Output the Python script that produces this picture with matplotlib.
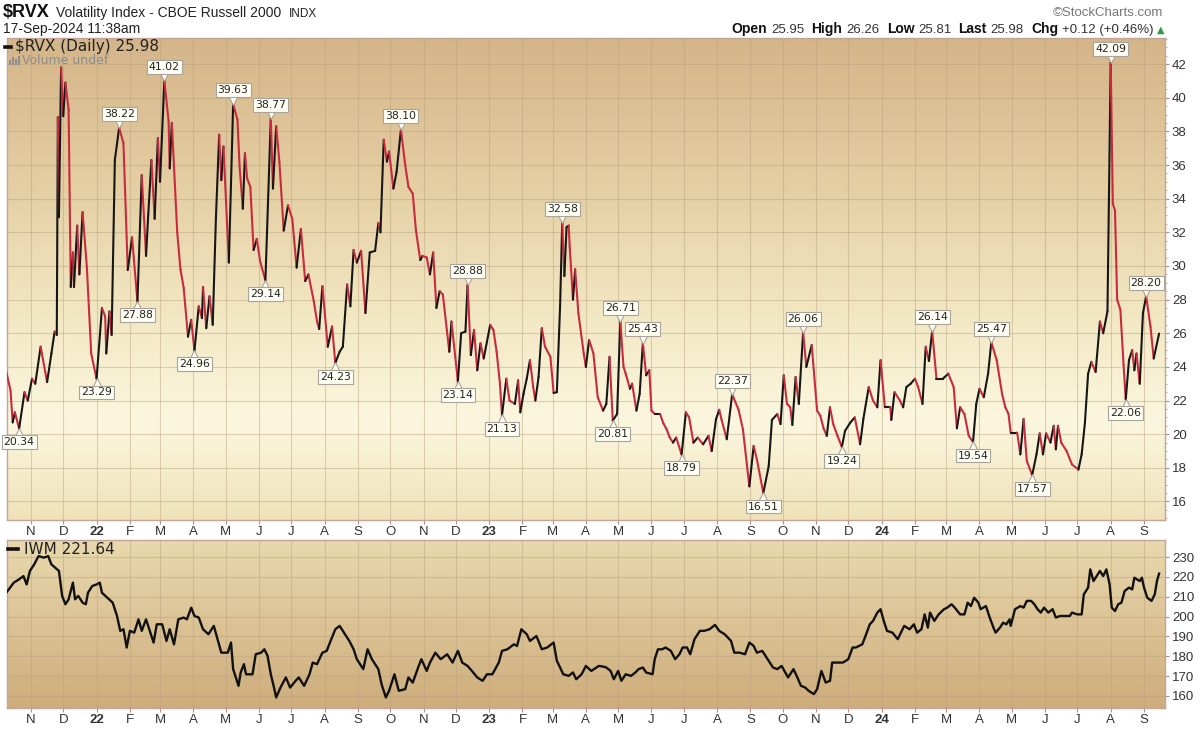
import datetime as dt
import numpy as np
import matplotlib
matplotlib.use("Agg")
import matplotlib.pyplot as plt
import matplotlib.dates as mdates
import matplotlib.ticker as mticker
import matplotlib.transforms as mtransforms
from matplotlib.collections import LineCollection
from matplotlib.lines import Line2D
from matplotlib.patches import Rectangle

plt.rcParams['text.parse_math'] = False
plt.rcParams['font.family'] = ['Liberation Sans', 'DejaVu Sans']

# ---------------- data ----------------
rvx_dates = [
 "2021-10-08","2021-10-13","2021-10-15","2021-10-17","2021-10-21","2021-10-26","2021-10-29",
 "2021-11-02","2021-11-05","2021-11-10","2021-11-16","2021-11-20","2021-11-23","2021-11-25",
 "2021-11-26","2021-11-27","2021-11-29","2021-12-01","2021-12-03","2021-12-06","2021-12-08",
 "2021-12-10","2021-12-11","2021-12-14","2021-12-16","2021-12-19","2021-12-23","2021-12-27",
 "2022-01-01","2022-01-06","2022-01-09","2022-01-10","2022-01-13","2022-01-15","2022-01-18",
 "2022-01-22","2022-01-26","2022-01-30","2022-02-03","2022-02-08","2022-02-12","2022-02-16",
 "2022-02-18","2022-02-21","2022-02-24","2022-02-27","2022-03-01","2022-03-05","2022-03-09",
 "2022-03-10","2022-03-12","2022-03-17","2022-03-20","2022-03-23","2022-03-27","2022-03-30",
 "2022-04-02","2022-04-06","2022-04-09","2022-04-10","2022-04-13","2022-04-16","2022-04-19",
 "2022-04-22","2022-04-25","2022-04-27","2022-04-29","2022-05-04","2022-05-08","2022-05-12",
 "2022-05-14","2022-05-17","2022-05-19","2022-05-21","2022-05-24","2022-05-27","2022-05-30",
 "2022-06-02","2022-06-07","2022-06-12","2022-06-14","2022-06-17","2022-06-20","2022-06-24",
 "2022-06-28","2022-07-02","2022-07-06","2022-07-10","2022-07-14","2022-07-17","2022-07-22",
 "2022-07-25","2022-07-27","2022-07-30","2022-08-04","2022-08-08","2022-08-11","2022-08-15",
 "2022-08-18","2022-08-22","2022-08-25","2022-08-28","2022-08-31","2022-09-04","2022-09-08",
 "2022-09-12","2022-09-17","2022-09-20","2022-09-22","2022-09-25","2022-09-28","2022-09-30",
 "2022-10-04","2022-10-07","2022-10-11","2022-10-15","2022-10-18","2022-10-22","2022-10-25",
 "2022-10-29","2022-10-31","2022-11-04","2022-11-07","2022-11-10","2022-11-13","2022-11-16",
 "2022-11-19","2022-11-25","2022-11-27","2022-12-03","2022-12-06","2022-12-10","2022-12-12",
 "2022-12-15","2022-12-18","2022-12-21","2022-12-24","2022-12-27","2022-12-30","2023-01-02",
 "2023-01-05","2023-01-08","2023-01-11","2023-01-13","2023-01-17","2023-01-20","2023-01-25",
 "2023-01-28","2023-01-30","2023-02-02","2023-02-05","2023-02-08","2023-02-11","2023-02-13",
 "2023-02-16","2023-02-19","2023-02-22","2023-02-27","2023-03-02","2023-03-05","2023-03-08",
 "2023-03-10","2023-03-12","2023-03-14","2023-03-16","2023-03-17","2023-03-20","2023-03-22",
 "2023-03-25","2023-03-30","2023-04-01","2023-04-04","2023-04-08","2023-04-12","2023-04-17",
 "2023-04-20","2023-04-23","2023-04-26","2023-04-30","2023-05-03","2023-05-06","2023-05-08",
 "2023-05-12","2023-05-14","2023-05-18","2023-05-21","2023-05-24","2023-05-27","2023-05-30",
 "2023-06-01","2023-06-04","2023-06-09","2023-06-12","2023-06-15","2023-06-18","2023-06-21",
 "2023-06-24","2023-06-29","2023-07-03","2023-07-06","2023-07-10","2023-07-14","2023-07-19",
 "2023-07-24","2023-07-27","2023-07-31","2023-08-03","2023-08-05","2023-08-10","2023-08-15",
 "2023-08-21","2023-08-25","2023-08-31","2023-09-04","2023-09-07","2023-09-13","2023-09-18",
 "2023-09-21","2023-09-26","2023-09-29","2023-10-02","2023-10-05","2023-10-08","2023-10-10",
 "2023-10-13","2023-10-16","2023-10-20","2023-10-23","2023-10-28","2023-11-02","2023-11-05",
 "2023-11-08","2023-11-11","2023-11-14","2023-11-17","2023-11-21","2023-11-25","2023-11-28",
 "2023-12-03","2023-12-07","2023-12-12","2023-12-15","2023-12-20","2023-12-24","2023-12-28",
 "2023-12-31","2024-01-04","2024-01-09","2024-01-10","2024-01-13","2024-01-18","2024-01-21",
 "2024-01-24","2024-01-28","2024-02-01","2024-02-04","2024-02-08","2024-02-11","2024-02-14",
 "2024-02-17","2024-02-21","2024-02-27","2024-03-03","2024-03-08","2024-03-11","2024-03-14",
 "2024-03-18","2024-03-22","2024-03-26","2024-03-29","2024-04-01","2024-04-05","2024-04-09",
 "2024-04-12","2024-04-17","2024-04-22","2024-04-25","2024-04-28","2024-04-30","2024-05-06",
 "2024-05-09","2024-05-12","2024-05-15","2024-05-20","2024-05-24","2024-05-27","2024-05-30",
 "2024-06-02","2024-06-06","2024-06-09","2024-06-11","2024-06-13","2024-06-16","2024-06-21",
 "2024-06-26","2024-07-02","2024-07-05","2024-07-08","2024-07-11","2024-07-14","2024-07-18",
 "2024-07-22","2024-07-25","2024-07-29","2024-08-01","2024-08-03","2024-08-05","2024-08-07",
 "2024-08-10","2024-08-13","2024-08-15","2024-08-18","2024-08-21","2024-08-23","2024-08-25",
 "2024-08-28","2024-08-31","2024-09-03","2024-09-07","2024-09-10","2024-09-15",
]
rvx_values = [
 24.0,22.6,20.7,21.3,20.34,22.5,22.0,
 23.3,23.0,25.2,23.1,24.8,26.1,25.9,
 38.85,32.9,41.8,38.9,40.9,39.3,28.75,
 30.8,28.75,32.4,29.5,33.2,29.9,24.8,
 23.29,27.5,27.0,24.8,27.3,25.9,36.3,
 38.22,37.3,29.76,31.7,27.88,35.4,30.6,
 33.0,36.3,32.8,37.6,35.0,41.02,38.6,
 35.8,38.5,32.0,29.8,28.7,25.8,26.8,
 24.96,27.6,26.9,28.75,26.3,28.2,26.5,
 32.9,37.8,35.1,37.1,30.2,39.63,38.7,
 35.9,33.4,36.7,35.2,34.7,30.95,31.6,
 30.3,29.14,38.77,34.6,38.3,36.2,32.1,
 33.6,32.8,29.9,32.2,29.1,29.5,27.9,
 26.7,26.25,28.8,25.2,26.4,24.23,24.9,
 25.2,28.9,27.6,30.95,30.2,30.9,27.2,
 30.8,30.9,32.55,32.0,37.5,36.2,36.8,
 34.6,35.6,38.10,36.0,34.7,34.3,32.1,
 30.35,30.6,30.5,29.5,30.8,27.5,28.5,
 28.3,24.9,26.7,23.14,26.0,26.1,28.88,
 24.7,26.2,23.8,25.4,24.5,25.5,26.5,
 26.2,24.9,23.05,21.13,23.3,22.0,21.8,
 23.2,21.3,22.4,23.3,24.4,22.8,22.0,
 23.4,26.3,25.2,24.6,22.45,22.5,27.6,
 32.58,29.4,32.3,32.4,31.1,28.0,29.8,
 27.2,24.8,24.0,25.6,24.8,22.2,21.4,
 21.8,24.6,20.81,21.2,26.71,24.0,23.6,
 22.7,23.0,21.4,22.4,25.43,23.5,23.8,
 21.4,21.2,21.2,20.65,20.3,19.8,19.5,
 19.8,18.79,21.3,21.0,19.5,19.8,19.4,
 19.9,19.0,20.9,21.45,20.9,19.7,22.37,
 21.45,20.3,16.9,19.3,18.5,16.51,18.1,
 20.85,21.2,20.6,23.5,21.8,21.6,20.55,
 23.4,21.8,26.06,24.0,25.3,21.4,21.1,
 20.35,19.9,21.6,20.6,19.9,19.24,20.2,
 20.7,21.0,19.4,20.9,22.8,22.0,21.6,
 24.4,21.6,21.6,20.85,22.5,22.0,21.6,
 22.8,23.0,23.3,22.8,21.8,25.2,24.35,
 26.14,23.3,23.3,23.6,22.8,20.35,21.6,
 21.2,19.9,19.54,21.8,22.7,22.2,23.6,
 25.47,24.4,22.4,21.6,21.2,20.1,20.1,
 18.8,20.9,18.4,17.57,18.8,20.05,18.8,
 20.05,19.5,20.5,19.1,20.5,19.5,19.0,
 18.2,17.9,18.8,20.65,23.6,24.3,23.7,
 26.7,26.0,27.3,42.09,33.7,33.3,28.0,
 27.4,24.1,22.06,24.4,25.0,23.8,24.8,
 23.0,27.2,28.20,26.4,24.5,25.98,
]

label_dates = ["2021-10-21","2022-01-01","2022-01-22","2022-02-08","2022-03-05","2022-04-02",
               "2022-05-08","2022-06-07","2022-06-12","2022-08-11","2022-10-11","2022-12-03",
               "2022-12-12","2023-01-13","2023-03-10","2023-04-26","2023-05-03","2023-05-24",
               "2023-06-29","2023-08-15","2023-09-13","2023-10-20","2023-11-25","2024-02-17",
               "2024-03-26","2024-04-12","2024-05-20","2024-08-01","2024-08-15","2024-09-03"]
label_values = [20.34,23.29,38.22,27.88,41.02,24.96,39.63,29.14,38.77,24.23,38.10,23.14,
                28.88,21.13,32.58,20.81,26.71,25.43,18.79,22.37,16.51,26.06,19.24,26.14,
                19.54,25.47,17.57,42.09,22.06,28.20]
label_kinds = ["lo","lo","hi","lo","hi","lo","hi","lo","hi","lo","hi","lo","hi","lo","hi",
               "lo","hi","hi","lo","hi","lo","hi","lo","hi","lo","hi","lo","hi","lo","hi"]

iwm_dates = [
 "2021-10-09","2021-10-16","2021-10-21","2021-10-25","2021-10-28","2021-10-31","2021-11-04",
 "2021-11-08","2021-11-13","2021-11-17","2021-11-20","2021-11-27","2021-11-30","2021-12-03",
 "2021-12-06","2021-12-10","2021-12-12","2021-12-15","2021-12-19","2021-12-22","2021-12-24",
 "2021-12-28","2022-01-01","2022-01-04","2022-01-06","2022-01-11","2022-01-16","2022-01-20",
 "2022-01-23","2022-01-26","2022-01-29","2022-02-01","2022-02-05","2022-02-09","2022-02-12",
 "2022-02-16","2022-02-19","2022-02-23","2022-02-26","2022-03-03","2022-03-07","2022-03-10",
 "2022-03-14","2022-03-18","2022-03-23","2022-03-26","2022-03-30","2022-04-02","2022-04-06",
 "2022-04-10","2022-04-15","2022-04-20","2022-04-24","2022-04-27","2022-05-03","2022-05-06",
 "2022-05-08","2022-05-13","2022-05-15","2022-05-18","2022-05-20","2022-05-26","2022-05-29",
 "2022-06-03","2022-06-06","2022-06-09","2022-06-12","2022-06-15","2022-06-17","2022-06-21",
 "2022-06-26","2022-06-30","2022-07-05","2022-07-08","2022-07-13","2022-07-18","2022-07-21",
 "2022-07-25","2022-07-30","2022-08-03","2022-08-06","2022-08-11","2022-08-15","2022-08-19",
 "2022-08-24","2022-08-28","2022-08-31","2022-09-06","2022-09-10","2022-09-14","2022-09-20",
 "2022-09-23","2022-09-27","2022-09-30","2022-10-05","2022-10-09","2022-10-15","2022-10-18",
 "2022-10-22","2022-10-27","2022-10-30","2022-11-04","2022-11-07","2022-11-12","2022-11-17",
 "2022-11-23","2022-11-28","2022-12-03","2022-12-07","2022-12-12","2022-12-16","2022-12-21",
 "2022-12-26","2022-12-30","2023-01-04","2023-01-10","2023-01-13","2023-01-18","2023-01-24",
 "2023-01-27","2023-01-31","2023-02-05","2023-02-08","2023-02-14","2023-02-19","2023-02-24",
 "2023-03-02","2023-03-05","2023-03-11","2023-03-16","2023-03-20","2023-03-23","2023-03-28",
 "2023-04-01","2023-04-06","2023-04-13","2023-04-17","2023-04-20","2023-04-24","2023-04-27",
 "2023-05-01","2023-05-04","2023-05-08","2023-05-13","2023-05-17","2023-05-20","2023-05-24",
 "2023-05-27","2023-06-02","2023-06-04","2023-06-07","2023-06-11","2023-06-14","2023-06-19",
 "2023-06-23","2023-06-27","2023-06-30","2023-07-04","2023-07-07","2023-07-11","2023-07-16",
 "2023-07-20","2023-07-25","2023-07-30","2023-08-03","2023-08-08","2023-08-14","2023-08-17",
 "2023-08-22","2023-08-27","2023-08-31","2023-09-04","2023-09-07","2023-09-12","2023-09-16",
 "2023-09-22","2023-09-26","2023-09-30","2023-10-06","2023-10-11","2023-10-14","2023-10-18",
 "2023-10-22","2023-10-25","2023-10-30","2023-11-02","2023-11-06","2023-11-10","2023-11-14",
 "2023-11-16","2023-11-21","2023-11-26","2023-12-01","2023-12-05","2023-12-08","2023-12-14",
 "2023-12-17","2023-12-21","2023-12-24","2023-12-28","2023-12-31","2024-01-03","2024-01-06",
 "2024-01-11","2024-01-16","2024-01-22","2024-01-27","2024-01-31","2024-02-03","2024-02-07",
 "2024-02-10","2024-02-13","2024-02-15","2024-02-19","2024-02-23","2024-02-28","2024-03-02",
 "2024-03-06","2024-03-09","2024-03-14","2024-03-18","2024-03-21","2024-03-24","2024-03-27",
 "2024-03-31","2024-04-02","2024-04-07","2024-04-10","2024-04-14","2024-04-16","2024-04-20",
 "2024-04-23","2024-04-26","2024-04-29","2024-04-30","2024-05-04","2024-05-09","2024-05-12",
 "2024-05-15","2024-05-19","2024-05-22","2024-05-25","2024-05-28","2024-05-31","2024-06-04",
 "2024-06-08","2024-06-11","2024-06-15","2024-06-20","2024-06-24","2024-06-26","2024-07-01",
 "2024-07-05","2024-07-07","2024-07-11","2024-07-13","2024-07-16","2024-07-20","2024-07-22",
 "2024-07-25","2024-07-28","2024-07-31","2024-08-02","2024-08-05","2024-08-08","2024-08-11",
 "2024-08-14","2024-08-18","2024-08-21","2024-08-23","2024-08-28","2024-08-30","2024-09-01",
 "2024-09-04","2024-09-08","2024-09-11","2024-09-13","2024-09-15",
]
iwm_values = [
 212.0,217.1,218.8,220.4,216.2,223.0,226.3,
 230.5,229.7,230.5,226.3,223.0,210.4,206.2,
 208.7,217.1,208.7,210.4,207.0,206.2,212.0,
 215.4,216.2,217.1,212.0,209.5,207.0,200.3,
 192.8,193.6,184.4,192.8,191.9,198.6,192.8,
 198.6,193.6,186.9,196.1,196.1,187.7,193.6,
 186.0,198.6,199.5,198.6,204.5,200.3,199.5,
 193.6,191.1,195.3,187.7,181.8,181.8,186.9,
 173.5,165.1,171.8,176.0,170.9,170.9,181.0,
 181.8,183.5,180.2,170.9,164.2,159.2,164.2,
 169.3,164.2,167.6,169.3,165.1,170.9,176.8,
 176.0,181.8,182.7,186.9,193.6,195.3,191.9,
 187.7,183.5,178.5,173.5,183.5,178.5,173.5,
 165.9,159.2,162.6,170.9,162.6,163.4,169.3,
 166.7,174.3,178.5,172.6,176.8,181.8,178.5,
 181.0,176.8,182.7,176.8,175.1,172.6,169.3,
 167.6,170.9,170.9,176.8,182.7,183.5,186.0,
 185.2,193.6,191.1,187.7,190.2,183.5,184.4,
 186.9,177.7,170.9,170.1,171.8,168.4,170.9,
 175.1,172.6,175.1,174.8,174.3,172.6,168.4,
 172.6,167.6,170.9,170.1,171.8,173.5,174.3,
 171.8,170.9,178.5,183.5,183.5,184.4,182.7,
 178.5,181.0,184.4,184.4,181.0,188.6,192.8,
 192.8,193.6,195.8,192.8,191.1,187.7,181.8,
 181.8,181.0,186.9,185.2,181.8,182.7,179.3,
 174.3,173.5,175.1,169.3,173.5,170.1,165.1,
 164.2,162.6,160.9,163.4,172.6,166.7,167.6,
 176.8,176.8,176.8,178.5,184.4,184.4,186.0,
 190.2,196.1,197.8,202.0,203.7,197.8,192.8,
 191.9,188.6,195.3,193.6,196.1,191.9,193.6,
 201.1,194.4,202.0,197.8,201.1,203.7,204.5,
 206.2,204.5,201.1,201.1,207.0,205.3,209.5,
 207.0,203.7,205.3,200.3,194.4,191.9,194.4,
 196.9,196.1,198.6,195.3,203.7,205.3,204.5,
 207.9,207.9,206.2,203.7,202.0,204.5,202.0,
 203.7,199.5,200.3,200.3,200.3,202.0,201.1,
 201.1,211.2,214.6,223.8,217.9,221.3,223.0,
 220.4,223.8,216.2,204.5,202.8,206.2,207.0,
 212.9,214.6,213.7,219.6,217.9,219.6,214.6,
 209.5,207.9,211.2,217.9,221.64,
]

rvx_title = "$RVX"
rvx_name = "Volatility Index - CBOE Russell 2000"
stamp = "17-Sep-2024 11:38am"
quote = [("Open", "25.95"), ("High", "26.26"), ("Low", "25.81"), ("Last", "25.98"),
         ("Chg", "+0.12 (+0.46%)")]
rvx_legend = "$RVX (Daily) 25.98"
iwm_legend = "IWM 221.64"

# ---------------- figure ----------------
W, H = 1200, 732
fig = plt.figure(figsize=(W / 100, H / 100), dpi=100, facecolor="white")


def fx(px):
    return px / W


def fy(py):
    return 1 - py / H


ax1 = fig.add_axes([fx(7), fy(520), fx(1165) - fx(7), fy(38) - fy(520)])
ax2 = fig.add_axes([fx(7), fy(708), fx(1165) - fx(7), fy(540) - fy(708)])


def gradient(ax, stops):
    pos = [s[0] for s in stops]
    cols = np.array([s[1] for s in stops], dtype=float) / 255.0
    t = np.linspace(0, 1, 300)
    arr = np.stack([np.interp(t, pos, cols[:, k]) for k in range(3)], axis=-1)[:, None, :]
    ax.imshow(arr, extent=(0, 1, 0, 1), transform=ax.transAxes, aspect="auto",
              zorder=0, interpolation="bilinear")


gradient(ax1, [(0.0, (212, 181, 137)), (0.3, (228, 206, 162)), (0.58, (243, 232, 196)),
               (0.8, (251, 247, 223)), (1.0, (239, 226, 186))])
gradient(ax2, [(0.0, (233, 217, 174)), (1.0, (206, 173, 124))])

xmin = mdates.date2num(dt.datetime(2021, 10, 9, 17))
xmax = mdates.date2num(dt.datetime(2024, 9, 20, 12))

# RVX coloured line: black when rising, red when falling
rx = mdates.datestr2num(rvx_dates)
rv = np.array(rvx_values)
pts = np.column_stack([rx, rv])
segs = np.stack([pts[:-1], pts[1:]], axis=1)
seg_cols = ["#161616" if d >= 0 else "#C92A3E" for d in np.diff(rv)]
lc = LineCollection(segs, colors=seg_cols, linewidths=1.5, capstyle="round",
                    joinstyle="round", zorder=3)
ax1.add_collection(lc)

ix = mdates.datestr2num(iwm_dates)
ax2.plot(ix, iwm_values, color="#111111", lw=1.7, zorder=3, solid_joinstyle="round")

# month ticks
ticks, tlabels, jan = [], [], []
y, m = 2021, 11
while (y, m) <= (2024, 9):
    ticks.append(mdates.date2num(dt.datetime(y, m, 1)))
    tlabels.append(f"{y % 100:02d}" if m == 1 else "JFMAMJJASOND"[m - 1])
    jan.append(m == 1)
    m += 1
    if m > 12:
        m, y = 1, y + 1

grid_c = "#B9A07E"
spine_c = "#C4A497"
for ax, yt, ylim in ((ax1, np.arange(16, 43, 2), (14.9, 43.55)),
                     (ax2, np.arange(160, 231, 10), (153.9, 238.6))):
    ax.set_xlim(xmin, xmax)
    ax.set_ylim(*ylim)
    ax.set_autoscale_on(False)
    ax.set_xticks(ticks)
    ax.set_xticklabels(tlabels)
    for lab, j in zip(ax.get_xticklabels(), jan):
        if j:
            lab.set_fontweight("bold")
            lab.set_fontsize(11)
    ax.set_yticks(yt)
    ax.yaxis.tick_right()
    ax.tick_params(axis="y", which="major", length=3, color="#B58E80", labelsize=9.5,
                   labelcolor="#333333", pad=2)
    ax.tick_params(axis="x", which="major", length=3, color="#B58E80", labelsize=9.5,
                   labelcolor="#333333", pad=1.5)
    ax.grid(True, which="major", color=grid_c, lw=0.8, alpha=0.45)
    ax.set_axisbelow(True)
    for s in ax.spines.values():
        s.set_color(spine_c)
        s.set_linewidth(1.0)
    ax.set_facecolor("none")

ax1.yaxis.set_minor_locator(mticker.MultipleLocator(0.5))
ax1.tick_params(axis="y", which="minor", length=1.5, color="#C49A8A")

# ---------------- peak / trough labels ----------------
box_fc = "#FFFFF6"
box_ec = "#A9A39A"
for d, v, k in zip(label_dates, label_values, label_kinds):
    xd = mdates.datestr2num(d)
    s = 1 if k == "hi" else -1
    tr = mtransforms.offset_copy(ax1.transData, fig=fig, x=0, y=3.1 * s, units="points")
    ax1.plot([xd], [v], marker="v" if s > 0 else "^", ms=6.6, mfc=box_fc, mec=box_ec,
             mew=0.8, transform=tr, zorder=5, clip_on=False)
    ax1.annotate(f"{v:.2f}", (xd, v), xytext=(0, 6.2 * s), textcoords="offset points",
                 ha="center", va="bottom" if s > 0 else "top", fontsize=7.8,
                 family="DejaVu Sans", color="#222222", zorder=6, annotation_clip=False,
                 bbox=dict(boxstyle="square,pad=0.18", fc=box_fc, ec=box_ec, lw=0.8))

# ---------------- header texts ----------------
renderer = fig.canvas.get_renderer()


def row(pieces, x_start=None, x_end=None, base=0):
    objs = []
    for txt, kw, gap in pieces:
        t = fig.text(0, fy(base), txt, ha="left", va="baseline", **kw)
        objs.append((t, t.get_window_extent(renderer).width, gap))
    total = sum(w + g for _, w, g in objs) - objs[-1][2]
    x = x_start if x_start is not None else x_end - total
    for t, w, g in objs:
        t.set_x(fx(x))
        x += w + g


row([(rvx_title, dict(fontsize=13, fontweight="bold", color="#111111"), 6),
     (rvx_name, dict(fontsize=10, color="#222222"), 8),
     ("INDX", dict(fontsize=8.5, color="#222222"), 0)], x_start=3, base=17)
fig.text(fx(3), fy(33), stamp, ha="left", va="baseline", fontsize=10, color="#222222")
fig.text(fx(1163), fy(16), "\u00a9StockCharts.com", ha="right", va="baseline",
         fontsize=9.5, color="#777777")

pieces = []
for name, val in quote:
    pieces.append((name, dict(fontsize=10, fontweight="bold", color="#111111"), 4))
    pieces.append((val, dict(fontsize=9.5, color="#333333"), 7))
pieces[-1] = (pieces[-1][0], pieces[-1][1], 3)
pieces.append(("\u25B2", dict(fontsize=7, color="#2E9B45",
                               family=["DejaVu Sans"]), 0))
row(pieces, x_end=1164, base=33)

# legends inside panels
fig.add_artist(Line2D([fx(5), fx(11)], [fy(47), fy(47)], color="#111111", lw=2.6))
fig.text(fx(15), fy(47), rvx_legend, ha="left", va="center", fontsize=11,
         family="DejaVu Sans", color="#222222")
for i, hgt in enumerate([5, 8, 6, 9]):
    fig.add_artist(Rectangle((fx(8.5 + i * 3), fy(65)), fx(2), hgt / H,
                             color="#8C8C8C", lw=0))
fig.text(fx(22), fy(61), "Volume undef", ha="left", va="center", fontsize=9,
         family="DejaVu Sans", color="#8C8C8C")

fig.add_artist(Line2D([fx(8), fx(18)], [fy(549), fy(549)], color="#111111", lw=2.6))
fig.text(fx(24), fy(549), iwm_legend, ha="left", va="center", fontsize=11,
         family="DejaVu Sans", color="#222222")

fig.savefig("out.png", dpi=100, facecolor="white")
